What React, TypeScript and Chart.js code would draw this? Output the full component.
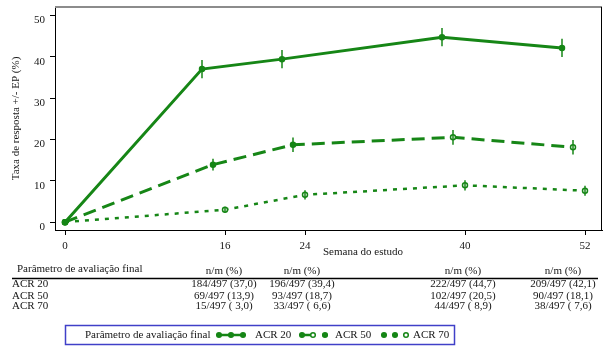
import React, { useEffect, useRef } from "react";
import { Chart, registerables } from "chart.js";

Chart.register(...registerables);

// ---------- data ----------
const weeks = [0, 16, 24, 40, 52];
const xTickLabels = ["0", "16", "24", "40", "52"];
const yTicks = [0, 10, 20, 30, 40, 50];
const seriesNames = ["ACR 20", "ACR 50", "ACR 70"];
const acr20 = [0, 37.0, 39.4, 44.7, 42.1];
const acr50 = [0, 13.9, 18.7, 20.5, 18.1];
const acr70 = [0, 3.0, 6.6, 8.9, 7.6];
const acr20Err = [0, 2.2, 2.2, 2.2, 2.2];
const acr50Err = [0, 1.4, 1.75, 1.8, 1.75];
const acr70Err = [0, 0.7, 1.1, 1.25, 1.2];
// horizontal jitter (weeks) used in the original to separate the series
const acr20Jitter = -2.3;
const acr50Jitter = -1.2;
const acr70Jitter = 0;
const tableHeader = "Parâmetro de avaliação final";
const colHeader = "n/m (%)";
const xTitle = "Semana do estudo";
const yTitle = "Taxa de resposta +/- EP (%)";
const acr20Table = ["184/497 (37,0)", "196/497 (39,4)", "222/497 (44,7)", "209/497 (42,1)"];
const acr50Table = ["69/497 (13,9)", "93/497 (18,7)", "102/497 (20,5)", "90/497 (18,1)"];
const acr70Table = ["15/497 ( 3,0)", "33/497 ( 6,6)", "44/497 ( 8,9)", "38/497 ( 7,6)"];

const GREEN = "rgb(22,134,22)";
const TEXT = "#151515";
const FONT = '"Liberation Serif", "DejaVu Serif", serif';

function pts(vals: number[], jitter: number) {
  return weeks.map((w, i) => ({ x: w === 0 ? w : w + jitter, y: vals[i] }));
}

const errs = [acr20Err, acr50Err, acr70Err];

const extras = {
  id: "extras",
  afterDatasetsDraw(chart: any) {
    const ctx = chart.ctx;
    const ys = chart.scales.y;
    ctx.save();
    ctx.strokeStyle = GREEN;
    ctx.lineWidth = 1.5;
    chart.data.datasets.forEach((ds: any, di: number) => {
      const meta = chart.getDatasetMeta(di);
      meta.data.forEach((el: any, i: number) => {
        const e = errs[di][i];
        if (!e) return;
        const v = ds.data[i].y;
        ctx.beginPath();
        ctx.moveTo(el.x, ys.getPixelForValue(v - e));
        ctx.lineTo(el.x, ys.getPixelForValue(v + e));
        ctx.stroke();
      });
    });
    ctx.restore();
  },
  afterDraw(chart: any) {
    const ctx = chart.ctx;
    const { left, right, top, bottom } = chart.chartArea;
    ctx.save();
    // frame
    ctx.strokeStyle = "#8c8c8c";
    ctx.lineWidth = 2;
    ctx.beginPath();
    ctx.moveTo(left, top);
    ctx.lineTo(right, top);
    ctx.stroke();
    ctx.strokeStyle = "#000";
    ctx.lineWidth = 1;
    ctx.beginPath();
    ctx.moveTo(right - 0.5, top);
    ctx.lineTo(right - 0.5, bottom);
    ctx.stroke();

    ctx.fillStyle = TEXT;
    ctx.font = `11px ${FONT}`;
    ctx.textBaseline = "middle";
    // x title
    ctx.textAlign = "center";
    ctx.fillText(xTitle, 363, 252);

    // table
    ctx.textAlign = "left";
    ctx.fillText(tableHeader, 17, 269);
    const cols = [224, 302, 463, 563];
    ctx.textAlign = "center";
    cols.forEach((c) => ctx.fillText(colHeader, c, 271.5));
    ctx.strokeStyle = "#000";
    ctx.lineWidth = 1.5;
    ctx.beginPath();
    ctx.moveTo(12, 278.5);
    ctx.lineTo(598, 278.5);
    ctx.stroke();
    const rows = [acr20Table, acr50Table, acr70Table];
    const rowY = [284, 296, 306];
    rows.forEach((r, ri) => {
      ctx.textAlign = "left";
      ctx.fillText(seriesNames[ri], 12, rowY[ri]);
      ctx.textAlign = "center";
      r.forEach((t, ci) => ctx.fillText(t, cols[ci], rowY[ri]));
    });

    // legend
    ctx.strokeStyle = "#4040c8";
    ctx.lineWidth = 1.5;
    ctx.strokeRect(65.5, 325.5, 389, 19);
    ctx.textAlign = "left";
    ctx.fillText(tableHeader, 85, 335);
    const ly = 335;
    ctx.strokeStyle = GREEN;
    ctx.fillStyle = GREEN;
    ctx.lineWidth = 2.5;
    const dot = (x: number, filled: boolean) => {
      ctx.beginPath();
      ctx.arc(x, ly, 2.3, 0, Math.PI * 2);
      if (filled) ctx.fill();
      else {
        ctx.fillStyle = "#fff";
        ctx.fill();
        ctx.fillStyle = GREEN;
      }
      ctx.lineWidth = 1.5;
      ctx.stroke();
      ctx.lineWidth = 2.5;
    };
    // ACR 20 sample
    ctx.beginPath();
    ctx.moveTo(218, ly);
    ctx.lineTo(244, ly);
    ctx.stroke();
    [219, 231, 243].forEach((x) => dot(x, true));
    // ACR 50 sample
    ctx.beginPath();
    ctx.moveTo(301, ly);
    ctx.lineTo(312, ly);
    ctx.moveTo(322, ly);
    ctx.lineTo(328, ly);
    ctx.stroke();
    dot(302, true);
    dot(313, false);
    dot(325, true);
    // ACR 70 sample
    dot(384, true);
    dot(395, true);
    dot(406, false);
    ctx.fillStyle = TEXT;
    ctx.fillText(seriesNames[0], 255, ly);
    ctx.fillText(seriesNames[1], 335, ly);
    ctx.fillText(seriesNames[2], 413, ly);
    ctx.restore();
  },
};

export default function App() {
  const ref = useRef<HTMLCanvasElement | null>(null);
  useEffect(() => {
    document.body.style.margin = "0";
    const canvas = ref.current;
    if (!canvas) return;
    Chart.defaults.font.family = FONT;
    Chart.defaults.color = TEXT;
    const chart = new Chart(canvas, {
      type: "line",
      data: {
        datasets: [
          {
            label: seriesNames[0],
            data: pts(acr20, acr20Jitter),
            borderColor: GREEN,
            backgroundColor: GREEN,
            borderWidth: 3,
            pointRadius: 2.5,
            pointBorderWidth: 1.5,
            pointBackgroundColor: GREEN,
            pointBorderColor: GREEN,
            tension: 0,
          },
          {
            label: seriesNames[1],
            data: pts(acr50, acr50Jitter),
            borderColor: GREEN,
            backgroundColor: GREEN,
            borderWidth: 3,
            borderDash: [13, 7],
            pointRadius: 2.5,
            pointBorderWidth: 1.5,
            pointBackgroundColor: [GREEN, GREEN, GREEN, "#fff", "#fff"],
            pointBorderColor: GREEN,
            tension: 0,
          },
          {
            label: seriesNames[2],
            data: pts(acr70, acr70Jitter),
            borderColor: GREEN,
            backgroundColor: GREEN,
            borderWidth: 2.5,
            borderDash: [4, 6],
            pointRadius: 2.5,
            pointBorderWidth: 1.5,
            pointBackgroundColor: "#fff",
            pointBorderColor: GREEN,
            tension: 0,
          },
        ],
      },
      options: {
        animation: false,
        responsive: false,
        devicePixelRatio: 1,
        layout: { padding: { left: 0, right: 6, top: 7, bottom: 0 } },
        plugins: { legend: { display: false }, tooltip: { enabled: false } },
        scales: {
          x: {
            type: "linear",
            min: -1,
            max: 53.7,
            afterFit: (s: any) => {
              s.height = 122;
              s.paddingLeft = 0;
              s.paddingRight = 0;
            },
            afterBuildTicks: (s: any) => {
              s.ticks = weeks.map((v) => ({ value: v }));
            },
            border: { color: "#000", width: 1 },
            grid: { drawOnChartArea: false, drawTicks: true, tickLength: 5, color: "#000" },
            ticks: {
              font: { size: 11 },
              color: TEXT,
              padding: 5,
              maxRotation: 0,
              autoSkip: false,
              callback: (v: any) => xTickLabels[weeks.indexOf(Number(v))] ?? "",
            },
          },
          y: {
            type: "linear",
            min: -1.9,
            max: 52,
            afterFit: (s: any) => {
              s.width = 55;
              s.paddingTop = 0;
              s.paddingBottom = 0;
            },
            afterBuildTicks: (s: any) => {
              s.ticks = yTicks.map((v) => ({ value: v }));
            },
            border: { color: "#000", width: 1 },
            grid: { drawOnChartArea: false, drawTicks: true, tickLength: 5, color: "#000" },
            ticks: {
              font: { size: 11 },
              color: TEXT,
              padding: 5,
              labelOffset: 5,
              autoSkip: false,
              callback: (v: any) => String(v),
            },
            title: {
              display: true,
              text: yTitle,
              font: { size: 11 },
              color: TEXT,
              padding: { top: 10, bottom: 0 },
            },
          },
        },
      },
      plugins: [extras],
    });
    return () => chart.destroy();
  }, []);
  return (
    <div style={{ width: 608, height: 352, position: "relative", background: "#fff" }}>
      <canvas ref={ref} width={608} height={352} style={{ display: "block" }} />
    </div>
  );
}
